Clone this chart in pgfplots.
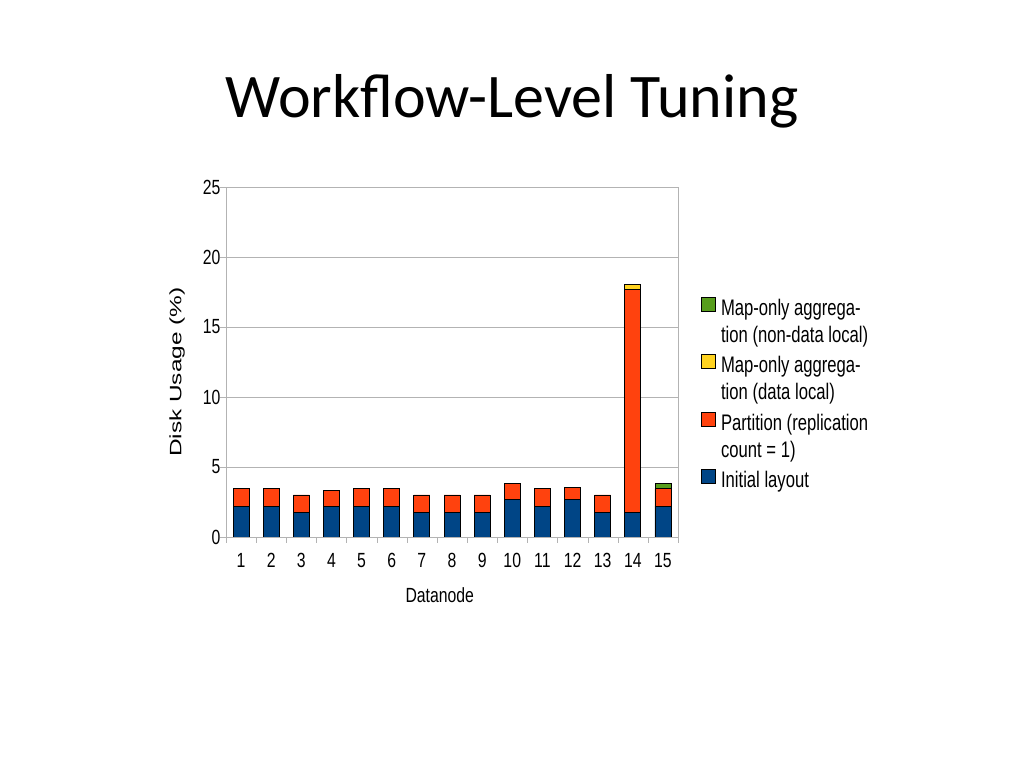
\documentclass[border=0pt]{standalone}
\usepackage{fontspec}
\setmainfont{Liberation Sans}
\newfontfamily\titlefont{Carlito}
\newfontfamily\hfont[FakeStretch=0.77]{Liberation Sans}
\newfontfamily\lfont[FakeStretch=0.74]{Liberation Sans}
\newfontfamily\vfont[FakeStretch=1.48]{Liberation Sans}
\usepackage{pgfplots}
\usepackage{pgfplotstable}
\pgfplotsset{compat=1.18}

\definecolor{lblue}{HTML}{004586}
\definecolor{lorange}{HTML}{FF420E}
\definecolor{lyellow}{HTML}{FFD320}
\definecolor{lgreen}{HTML}{579D1C}
\definecolor{gridgray}{HTML}{B3B3B3}

% legend swatches: beside a one-line entry, and beside the first of two lines
\pgfplotsset{
  swatch/.style={legend image code/.code={\draw[##1] (0pt,4pt) rectangle (14pt,18pt); \path (17pt,3pt);}},
  swatch2/.style={legend image code/.code={\draw[##1] (0pt,31pt) rectangle (14pt,45pt); \path (17pt,3pt);}},
}

% node, initial layout, partition, map-only (data local), map-only (non-data local)
\pgfplotstableread{
node init part local nonlocal
1  2.20 1.25 0    0
2  2.20 1.25 0    0
3  1.75 1.25 0    0
4  2.20 1.15 0    0
5  2.20 1.25 0    0
6  2.20 1.25 0    0
7  1.75 1.25 0    0
8  1.75 1.25 0    0
9  1.75 1.25 0    0
10 2.65 1.20 0    0
11 2.20 1.25 0    0
12 2.65 0.90 0    0
13 1.75 1.25 0    0
14 1.75 15.95 0.33 0
15 2.20 1.25 0    0.35
}\usage

\begin{document}
\begin{tikzpicture}[x=1pt,y=1pt]
\useasboundingbox (0pt,0pt) rectangle (1024pt,768pt);
\fill[white] (0pt,0pt) rectangle (1024pt,768pt);
\node[anchor=base, font=\titlefont\fontsize{62}{70}\selectfont] at (512pt,650pt) {Workflow-Level Tuning};

\begin{axis}[
  at={(226pt,231pt)}, anchor=south west,
  scale only axis, width=452pt, height=350pt,
  ybar stacked, bar width=16pt,
  xmin=0.5, xmax=15.5, ymin=0, ymax=25,
  xtick={1,...,15}, minor xtick={0.5,1.5,...,15.5},
  ytick={0,5,...,25},
  xtick pos=bottom, ytick pos=left,
  tick align=outside,
  major x tick style={draw=none},
  minor x tick style={gridgray},
  major y tick style={gridgray},
  major tick length=6pt, minor tick length=6pt,
  ymajorgrids, major grid style={gridgray, line width=0.8pt},
  axis line style={gridgray, line width=0.8pt},
  /pgf/number format/assume math mode=true,
  tick label style={font=\hfont\fontsize{20.5}{24}\selectfont},
  xticklabel style={yshift=-7pt},
  yticklabel style={xshift=4pt},
  xlabel={Datanode}, ylabel={Disk Usage (\%)},
  xlabel style={font=\hfont\fontsize{20.5}{24}\selectfont,
    at={(axis description cs:0.473,-0.166)}, anchor=center},
  ylabel style={font=\vfont\fontsize{16.5}{20}\selectfont,
    at={(axis description cs:-0.108,0.471)}, anchor=center},
  reverse legend,
  legend style={draw=none, fill=none, at={(1.051,0.691)}, anchor=north west,
    font=\lfont\fontsize{22.5}{27}\selectfont,
    cells={anchor=base west, align=left}, row sep=1.5pt, inner sep=0pt},
]
\addplot[fill=lblue, draw=black, line width=0.8pt, swatch] table[x=node, y=init] {\usage};
\addlegendentry[text height=18pt, text depth=7pt]{Initial layout}
\addplot[fill=lorange, draw=black, line width=0.8pt, swatch2] table[x=node, y=part] {\usage};
\addlegendentry[text height=45pt, text depth=7pt]{Partition (replication\\count = 1)}
\addplot[fill=lyellow, draw=black, line width=0.8pt, swatch2] table[x=node, y=local] {\usage};
\addlegendentry[text height=45pt, text depth=7pt]{Map-only aggrega-\\tion (data local)}
\addplot[fill=lgreen, draw=black, line width=0.8pt, swatch2] table[x=node, y=nonlocal] {\usage};
\addlegendentry[text height=45pt, text depth=7pt]{Map-only aggrega-\\tion (non-data local)}
\end{axis}
\end{tikzpicture}
\end{document}
